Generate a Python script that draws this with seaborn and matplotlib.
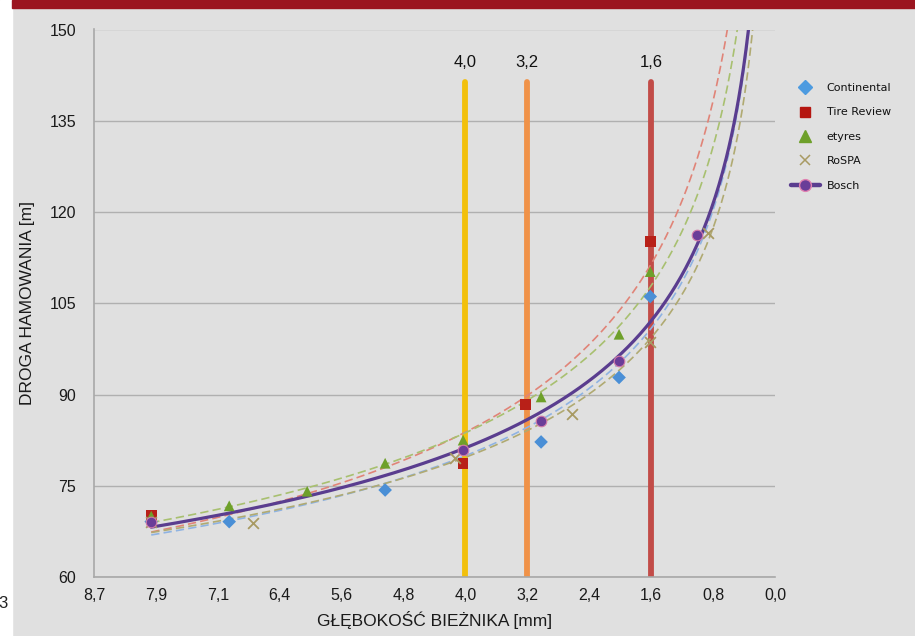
import numpy as np
import pandas as pd
import matplotlib
matplotlib.use("Agg")
import matplotlib.pyplot as plt
from matplotlib.lines import Line2D
from matplotlib.patches import Rectangle
import seaborn as sns

# ---------------- data ----------------
cont_x = [8.0, 7.0, 5.0, 3.0, 2.0, 1.6]
cont_y = [69.1, 69.1, 74.3, 82.2, 92.8, 106.1]

tire_x = [8.0, 4.0, 3.2, 1.6]
tire_y = [70.2, 78.7, 88.3, 115.1]

ety_x = [8.0, 7.0, 6.0, 5.0, 4.0, 3.0, 2.0, 1.6]
ety_y = [70.0, 71.7, 74.1, 78.7, 82.5, 89.6, 99.9, 110.2]

rospa_x = [8.0, 6.7, 4.1, 2.6, 1.6, 0.86]
rospa_y = [69.0, 68.8, 79.5, 86.8, 98.7, 116.5]

bosch_x = [8.0, 4.0, 3.0, 2.0, 1.0]
bosch_y = [69.1, 80.9, 85.7, 95.5, 116.3]

x_tick_unit = 0.794
x_tick_labels = ["0,0", "0,8", "1,6", "2,4", "3,2", "4,0", "4,8", "5,6", "6,4", "7,1", "7,9", "8,7"]
y_ticks = [60, 75, 90, 105, 120, 135, 150]

limit_idx = [5, 4, 2]            # tick indices of the 4,0 / 3,2 / 1,6 limits
limit_labels = ["4,0", "3,2", "1,6"]
limit_top = 141.4

# ---------------- style ----------------
BG = "#e0e0e0"
sns.set_style("white")
plt.rcParams["font.family"] = ["Liberation Sans", "DejaVu Sans"]

fig = plt.figure(figsize=(9.15, 6.36), dpi=100, facecolor=BG)
ax = fig.add_axes([94 / 915, 1 - 577 / 636, (775 - 94) / 915, (577 - 29.5) / 636])
ax.set_facecolor(BG)

# frame decorations
fig.patches.append(Rectangle((0, 0), 12 / 915, 1, transform=fig.transFigure,
                             color="white", zorder=0))
fig.patches.append(Rectangle((12 / 915, 1 - 8 / 636), 1, 8 / 636, transform=fig.transFigure,
                             color="#9b1520", zorder=0))
fig.text(-0.002, 1 - 603 / 636, "3", fontsize=12, color="#222222", va="center", ha="left")

series = [
    ("Continental", cont_x, cont_y, "D", "#4a8fd6", "#8fb3e2"),
    ("Tire Review", tire_x, tire_y, "s", "#b82018", "#e08478"),
    ("etyres", ety_x, ety_y, "^", "#6ea02a", "#a8c070"),
    ("RoSPA", rospa_x, rospa_y, "x", "#a89a62", "#b0aa72"),
]

def power_fit(x, y):
    b, ln_a = np.polyfit(np.log(np.asarray(x)), np.log(np.asarray(y)), 1)
    return np.exp(ln_a), b

xs_trend = np.linspace(8.0, 0.12, 500)

# vertical limit lines
tick_pos = [i * x_tick_unit for i in range(len(x_tick_labels))]
lim_colors = ["#f2c00c", "#f09248", "#c24c48"]
for idx, lab, c in zip(limit_idx, limit_labels, lim_colors):
    xp = tick_pos[idx]
    ax.vlines(xp, 60, limit_top, colors=c, lw=4.2, zorder=1.6, capstyle="round")
    ax.text(xp, 144.6, lab, ha="center", va="center", fontsize=12, color="#111111")

# dashed trend lines
for name, x, y, m, c, lc in series:
    a, b = power_fit(x, y)
    sns.lineplot(x=xs_trend, y=a * xs_trend ** b, ax=ax, color=lc, lw=1.2,
                 linestyle=(0, (5, 2.5)), zorder=2, legend=False, sort=False,
                 estimator=None)

# Bosch trend line (solid)
a, b = power_fit(bosch_x, bosch_y)
sns.lineplot(x=xs_trend, y=a * xs_trend ** b, ax=ax, color="#5a3d8f", lw=2.3,
             zorder=3, legend=False, sort=False, estimator=None)

# markers
for name, x, y, m, c, lc in series:
    if m == "x":
        sns.scatterplot(x=x, y=y, ax=ax, marker="x", color=c, s=60, linewidth=1.3, zorder=4)
    else:
        sns.scatterplot(x=x, y=y, ax=ax, marker=m, color=c, s=60 if m != "D" else 48,
                        edgecolor="none", zorder=4)
sns.scatterplot(x=bosch_x, y=bosch_y, ax=ax, marker="o", color="#6a3d98", s=58,
                edgecolor="#d27aa8", linewidth=0.8, zorder=5)

# axes
ax.set_xlim(x_tick_unit * 11, 0)
ax.set_ylim(60, 150)
ax.set_xticks(tick_pos)
ax.set_xticklabels(x_tick_labels)
ax.set_yticks(y_ticks)
ax.set_yticklabels([str(v) for v in y_ticks])
ax.tick_params(axis="both", labelsize=11.5, labelcolor="#1a1a1a", color="#9a9a9a",
               length=5, width=1, direction="out", pad=3)
ax.tick_params(axis="y", pad=8)
ax.yaxis.grid(True, color="#b0b0b0", lw=1)
ax.xaxis.grid(False)
for s in ["top", "right"]:
    ax.spines[s].set_visible(False)
for s in ["left", "bottom"]:
    ax.spines[s].set_color("#a8a8a8")
    ax.spines[s].set_linewidth(1.2)

ax.set_xlabel("GŁĘBOKOŚĆ BIEŻNIKA [mm]", fontsize=12.5, color="#1a1a1a", labelpad=6)
ax.set_ylabel("DROGA HAMOWANIA [m]", fontsize=12.5, color="#1a1a1a", labelpad=10)

# legend
handles = [
    Line2D([], [], marker="D", color="#4d9be0", lw=0, markersize=7),
    Line2D([], [], marker="s", color="#b51610", lw=0, markersize=7.5),
    Line2D([], [], marker="^", color="#6ea02a", lw=0, markersize=8.5),
    Line2D([], [], marker="x", color="#a89a62", lw=0, markersize=7.5, markeredgewidth=1.1),
    Line2D([], [], marker="o", color="#5a3d8f", lw=3.2, markersize=8.5,
           markerfacecolor="#6a3d98", markeredgecolor="#e080b0"),
]
labels = ["Continental", "Tire Review", "etyres", "RoSPA", "Bosch"]
leg = fig.legend(handles, labels, loc="upper left", bbox_to_anchor=(781 / 915, 1 - 73 / 636),
                 frameon=False, prop={"family": "DejaVu Sans", "size": 8},
                 labelspacing=1.3, handlelength=2.6, handletextpad=0.6)
for t in leg.get_texts():
    t.set_color("#111111")

fig.savefig("out.png", dpi=100, facecolor=BG)
